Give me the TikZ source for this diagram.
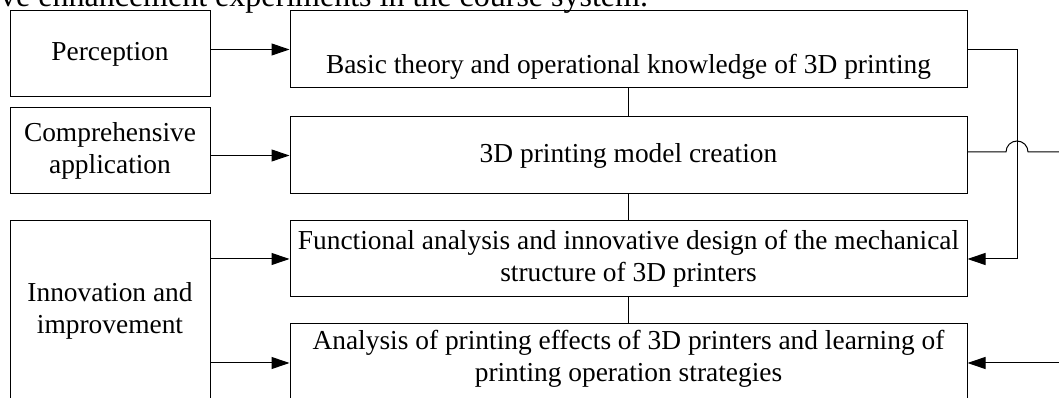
\documentclass[tikz,border=0pt]{standalone}
\usepackage{fontspec}
\setmainfont{Liberation Serif}
\usetikzlibrary{arrows.meta}
\tikzset{
  box/.style={draw=black, line width=1pt, rectangle, inner sep=0pt, align=center,
    font=\fontsize{27.4}{32}\selectfont},
  txt/.style={inner sep=0pt, align=center, font=\fontsize{27.4}{32}\selectfont},
  conn/.style={draw=black, line width=1pt},
  arr/.style={conn, -{Triangle[length=18pt,width=12pt]}},
}
\begin{document}
\begin{tikzpicture}[x=1pt,y=1pt]
\useasboundingbox (0,0) rectangle (1059,398);
\clip (0,0) rectangle (1059,398);
% partial caption at top (cut off by the frame, as in the reference)
\node[anchor=base west, inner sep=0pt, font=\fontsize{32}{36}\selectfont] (cap) at (0,391) {ve enhancement experiments in the course system.};
% left boxes
\node[box, minimum width=200, minimum height=86] (perc) at (110,344) {Perception};
\node[box, minimum width=200, minimum height=86] (comp) at (110,247) {Comprehensive\\application};
\node[box, minimum width=200, minimum height=180] (innov) at (110,87) {Innovation and\\improvement};
% right boxes
\node[box, minimum width=677, minimum height=77] (basic) at (628.5,348.5) {};
\node[txt, anchor=base] (basict) at (628.5,324) {Basic theory and operational knowledge of 3D printing};
\node[box, minimum width=677, minimum height=77] (model) at (628.5,242.5) {3D printing model creation};
\node[box, minimum width=677, minimum height=76] (func) at (628.5,139) {Functional analysis and innovative design of the mechanical\\structure of 3D printers};
\node[box, minimum width=677, minimum height=78] (anal) at (628.5,35) {};
\node[txt] (analt) at (628.5,39) {Analysis of printing effects of 3D printers and learning of\\printing operation strategies};
% arrows from left boxes
\draw[arr] (perc.east |- basic.west) -- (basic.west);
\draw[arr] (comp.east |- model.west) -- (model.west);
\draw[arr] (innov.east |- func.west) -- (func.west);
\draw[arr] (innov.east |- anal.west) -- (anal.west);
% vertical links
\draw[conn] (basic.south) -- (model.north);
\draw[conn] (model.south) -- (func.north);
\draw[conn] (func.south) -- (anal.north);
% right bus
\coordinate (busTop) at (1017,348.5);
\coordinate (busBot) at (1017,139);
\draw[arr] (basic.east) -- (busTop) -- (busBot) -- (func.east);
\coordinate (hopL) at (1006,246);
\coordinate (outR) at (1065,246);
\draw[conn] (model.east |- hopL) -- (hopL) arc[start angle=180, end angle=0, radius=11] -- (outR);
\coordinate (inR) at (1065,35);
\draw[arr] (inR) -- (anal.east);
\end{tikzpicture}
\end{document}
